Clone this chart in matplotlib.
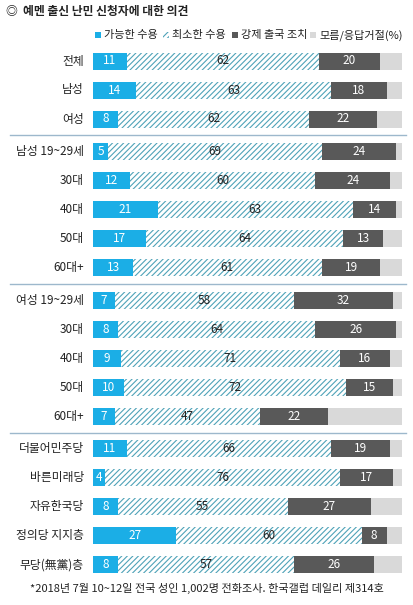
import matplotlib
matplotlib.use("Agg")
import matplotlib.pyplot as plt
import numpy as np

plt.rcParams['font.family'] = ['Noto Sans CJK KR', 'DejaVu Sans']
plt.rcParams['hatch.linewidth'] = 0.8

categories = ['전체', '남성', '여성',
              '남성 19~29세', '30대', '40대', '50대', '60대+',
              '여성 19~29세', '30대', '40대', '50대', '60대+',
              '더불어민주당', '바른미래당', '자유한국당', '정의당 지지층', '무당(無黨)층']
groups = [0, 0, 0, 1, 1, 1, 1, 1, 2, 2, 2, 2, 2, 3, 3, 3, 3, 3]
accept = [11, 14, 8, 5, 12, 21, 17, 13, 7, 8, 9, 10, 7, 11, 4, 8, 27, 8]
minimal = [62, 63, 62, 69, 60, 63, 64, 61, 58, 64, 71, 72, 47, 66, 76, 55, 60, 57]
deport = [20, 18, 22, 24, 24, 14, 13, 19, 32, 26, 16, 15, 22, 19, 17, 27, 8, 26]
dontknow = [100 - a - b - c for a, b, c in zip(accept, minimal, deport)]
legend_labels = ['가능한 수용', '최소한 수용', '강제 출국 조치', '모름/응답거절(%)']

W, H = 414, 605
fig = plt.figure(figsize=(W/100, H/100), dpi=100)
fig.patch.set_facecolor('white')
x0, x1 = 93, 402
ax = fig.add_axes([x0/W, 0, (x1-x0)/W, 1])
ax.set_xlim(0, 100)
ax.set_ylim(H, 0)
ax.axis('off')

ypos = np.array([61 + 29*i + 3.6*g for i, g in enumerate(groups)])
bh = 17
blue, dark, light, teal = '#1BAEE6', '#595959', '#D9D9D9', '#4FA3B8'

acc = np.array(accept); mn = np.array(minimal); dp = np.array(deport); dk = np.array(dontknow)
ax.barh(ypos, acc, height=bh, color=blue, lw=0)
ax.barh(ypos, mn, left=acc, height=bh, color='white', edgecolor=teal, hatch='//////', lw=0)
ax.barh(ypos, dp, left=acc+mn, height=bh, color=dark, lw=0)
ax.barh(ypos, dk, left=acc+mn+dp, height=bh, color=light, lw=0)

fs = 8.5
for y, a, m, d, lab in zip(ypos, acc, mn, dp, categories):
    ax.text(a/2, y, str(a), color='white', ha='center', va='center', fontsize=fs)
    ax.text(a + m/2, y, str(m), color='#222222', ha='center', va='center', fontsize=fs)
    ax.text(a + m + d/2, y, str(d), color='white', ha='center', va='center', fontsize=fs)
    fig.text(84/W, 1 - y/H, lab, ha='right', va='center', fontsize=fs, color='#222222')

# separators
for g in [1, 2, 3]:
    i = groups.index(g)
    ysep = (ypos[i-1] + ypos[i]) / 2
    fig.add_artist(plt.Line2D([10/W, 406/W], [1 - ysep/H]*2, color='#9DB8CC', lw=1))

fig.text(6/W, 1 - 12/H, '◎  예멘 출신 난민 신청자에 대한 의견', fontsize=8.5, fontweight='bold',
         va='center', color='#222222')

# legend
from matplotlib.patches import Rectangle
lx = [95, 163, 232, 310]
for x, lab, c, h in zip(lx, legend_labels, [blue, 'white', dark, light], [None, '//////', None, None]):
    r = Rectangle((x/W, 1 - 38/H), 6/W, 6/H, transform=fig.transFigure, facecolor=c,
                  edgecolor=teal if h else 'none', hatch=h, lw=0)
    fig.add_artist(r)
    fig.text((x+9)/W, 1 - 35/H, lab, fontsize=8, va='center', color='#222222')

fig.text(W/2/W, 1 - 588/H, '*2018년 7월 10~12일 전국 성인 1,002명 전화조사. 한국갤럽 데일리 제314호',
         ha='center', va='center', fontsize=8, color='#222222')

fig.savefig('out.png', dpi=100)
